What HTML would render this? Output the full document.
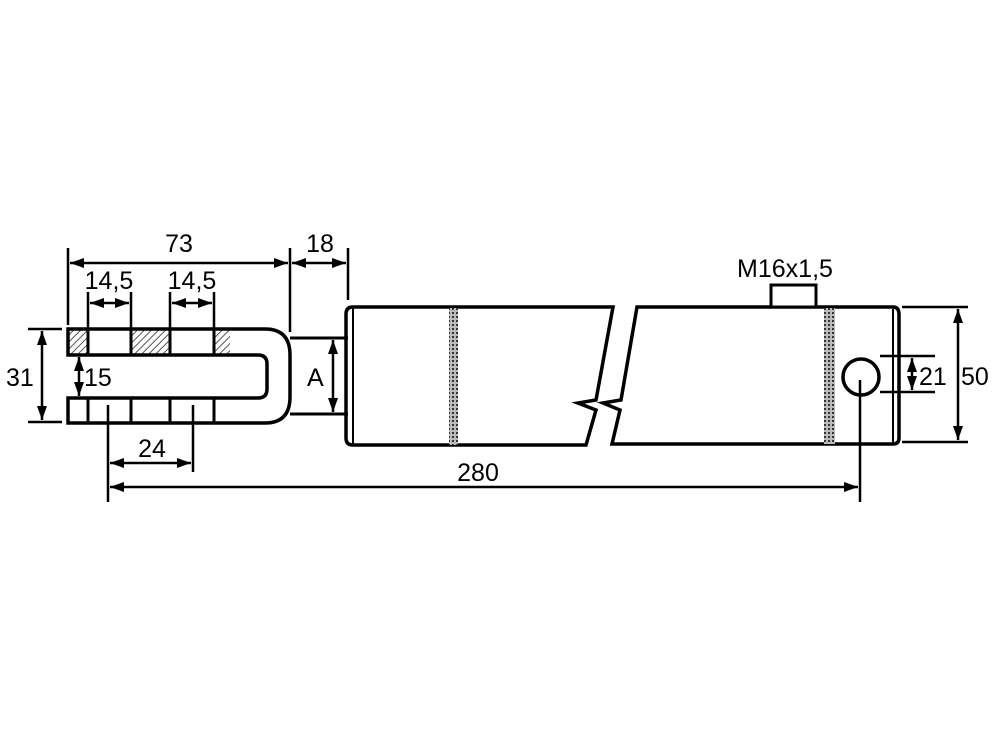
<!DOCTYPE html>
<html><head><style>body{margin:0;background:#fff}svg{display:block}</style></head><body>
<svg width="1000" height="741" viewBox="0 0 1000 741" xmlns="http://www.w3.org/2000/svg" font-family="Liberation Sans, sans-serif">
<defs>
<pattern id="h" width="5" height="5" patternUnits="userSpaceOnUse" patternTransform="rotate(45)"><rect width="5" height="5" fill="#fff"/><line x1="0" y1="0" x2="0" y2="5" stroke="#555" stroke-width="2"/></pattern>
<pattern id="w" width="4" height="4" patternUnits="userSpaceOnUse"><rect width="4" height="4" fill="#bbb"/><rect width="2" height="2" fill="#333"/></pattern>
<marker id="a" viewBox="0 0 14 10" refX="14" refY="5" markerWidth="14" markerHeight="10" orient="auto-start-reverse" markerUnits="userSpaceOnUse"><path d="M0,0L14,5L0,10z" fill="#000"/></marker>
</defs>
<g stroke="#000" stroke-width="3.5" fill="none">
<rect x="68" y="329" width="20" height="26" fill="url(#h)" stroke="none"/>
<rect x="131" y="329" width="39" height="26" fill="url(#h)" stroke="none"/>
<rect x="214" y="329" width="16" height="26" fill="url(#h)" stroke="none"/>
<path d="M68,329H265Q290,329 290,355V397Q290,423 265,423H68V398H258Q267,398 267,389V364Q267,355 258,355H68Z"/>
<path d="M88,329V355M131,329V355M170,329V355M214,329V355M88,398V423M131,398V423M170,398V423M214,398V423" stroke-width="3"/>
<path d="M290,338H348M290,414H348" stroke-width="3"/>
<path d="M353,307H613L596,400L578,403L596,410L586,445H353Q346,445 346,438V314Q346,307 353,307Z"/>
<path d="M353,308V444" stroke-width="2"/>
<rect x="449" y="308" width="9" height="137" fill="url(#w)" stroke="none"/>
<path d="M637,307H893Q899,307 899,314V438Q899,444 893,444H612L620,410L603,403L621,400Z"/>
<path d="M893,309V443" stroke-width="2"/>
<rect x="824" y="308" width="11" height="136" fill="url(#w)" stroke="none"/>
<rect x="771" y="285" width="45" height="22" fill="#fff" stroke-width="3"/>
<circle cx="861" cy="377" r="18"/>
</g>
<g stroke="#000" stroke-width="2.5" fill="none">
<path d="M68,248V325M290,248V332M348,248V300M88,292V328M131,292V328M170,292V328M214,292V328M28,329H62M28,422H62M108,405V502M193,405V472M860,380V502M902,307H968M902,442H968M880,356H935M880,392H935"/>
</g>
<g stroke="#000" stroke-width="2.5" fill="none" marker-start="url(#a)" marker-end="url(#a)">
<path d="M70,263H288"/><path d="M292,263H346"/>
<path d="M90,303H129"/><path d="M172,303H212"/>
<path d="M42,331V420"/><path d="M79,357V396"/>
<path d="M333,340V412"/><path d="M110,463H191"/>
<path d="M110,487H858"/><path d="M958,309V440"/>
<path d="M912,358V390"/>
</g>
<g font-size="25" fill="#000">
<text x="179" y="252" text-anchor="middle">73</text>
<text x="320" y="252" text-anchor="middle">18</text>
<text x="109" y="289" text-anchor="middle">14,5</text>
<text x="192" y="289" text-anchor="middle">14,5</text>
<text x="6" y="386">31</text>
<text x="84" y="386">15</text>
<text x="307" y="386">A</text>
<text x="152" y="457" text-anchor="middle">24</text>
<text x="478" y="481" text-anchor="middle">280</text>
<text x="785" y="277" text-anchor="middle">M16x1,5</text>
<text x="919" y="385">21</text>
<text x="961" y="385">50</text>
</g>
</svg>
</body></html>
